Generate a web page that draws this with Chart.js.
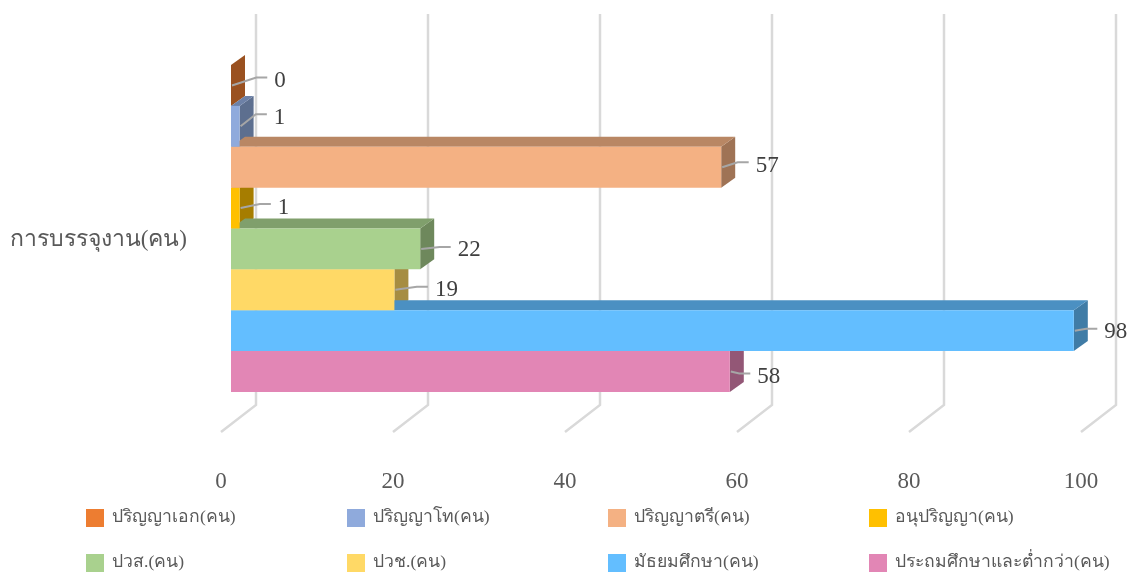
<!DOCTYPE html>
<html>
<head>
<meta charset="utf-8">
<style>
    body { margin: 0; background: #fff; }
    #wrap { width: 1130px; height: 572px; position: relative; }
</style>
<script src="https://cdn.jsdelivr.net/npm/chart.js@4"></script>
</head>
<body>
<div id="wrap"><canvas id="chart"></canvas></div>
<script>
const categories = ['การบรรจุงาน(คน)'];
const seriesNames = ['ปริญญาเอก(คน)', 'ปริญญาโท(คน)', 'ปริญญาตรี(คน)', 'อนุปริญญา(คน)', 'ปวส.(คน)', 'ปวช.(คน)', 'มัธยมศึกษา(คน)', 'ประถมศึกษาและต่ำกว่า(คน)'];
const seriesValues = [0, 1, 57, 1, 22, 19, 98, 58];
const seriesColors = ['#ED7D31', '#8FAADC', '#F4B183', '#FFC000', '#A9D18E', '#FFD966', '#63BEFF', '#E286B5'];
const tickValues = [0, 20, 40, 60, 80, 100];

// label centre relative to the bar end / bar middle
const labelOffsets = [[49, -6], [40, -10], [46, -3], [44, -2], [49, 0], [52, -1], [42, 0], [39, 4]];

const FONT = '"Liberation Serif", "Times New Roman", serif';
const DEPTH_X = 14, DEPTH_Y = 10;

function shade(hex, f) {
    const n = parseInt(hex.slice(1), 16);
    return 'rgb(' + Math.round((n >> 16) * f) + ',' + Math.round(((n >> 8) & 255) * f) + ',' + Math.round((n & 255) * f) + ')';
}

function poly(ctx, pts, fill) {
    ctx.beginPath();
    pts.forEach((p, i) => i ? ctx.lineTo(p[0], p[1]) : ctx.moveTo(p[0], p[1]));
    ctx.closePath();
    ctx.fillStyle = fill;
    ctx.fill();
}

const wallPlugin = {
    id: 'wall',
    beforeDatasetsDraw(chart) {
        const ctx = chart.ctx;
        const xs = chart.scales.x;
        ctx.save();

        // back wall + floor lines
        ctx.strokeStyle = '#d9d9d9';
        ctx.lineWidth = 2.5;
        tickValues.forEach(v => {
            const x = xs.getPixelForValue(v);
            ctx.beginPath();
            ctx.moveTo(x + 25, 14);
            ctx.lineTo(x + 25, 405);
            ctx.lineTo(x - 10, 432);
            ctx.stroke();
        });

        // side and top faces, top row first so lower rows overlap it
        chart.data.datasets.forEach((ds, i) => {
            const bar = chart.getDatasetMeta(i).data[0];
            const top = bar.y - bar.height / 2;
            const bottom = bar.y + bar.height / 2;
            poly(ctx, [[bar.x, top], [bar.x + DEPTH_X, top - DEPTH_Y], [bar.x + DEPTH_X, bottom - DEPTH_Y], [bar.x, bottom]], shade(ds.backgroundColor, 0.65));
            poly(ctx, [[bar.base, top], [bar.base + DEPTH_X, top - DEPTH_Y], [bar.x + DEPTH_X, top - DEPTH_Y], [bar.x, top]], shade(ds.backgroundColor, 0.76));
        });
        ctx.restore();
    },
    afterDatasetsDraw(chart) {
        const ctx = chart.ctx;
        ctx.save();
        ctx.font = '23px ' + FONT;
        ctx.textBaseline = 'middle';
        chart.data.datasets.forEach((ds, i) => {
            const bar = chart.getDatasetMeta(i).data[0];
            const text = String(ds.data[0]);
            const lx = bar.x + labelOffsets[i][0];
            const ly = bar.y + labelOffsets[i][1];
            const left = lx - ctx.measureText(text).width / 2;

            ctx.strokeStyle = '#a6a6a6';
            ctx.lineWidth = 2;
            ctx.beginPath();
            ctx.moveTo(bar.x + 1, bar.y);
            ctx.lineTo(left - 18, ly - 2);
            ctx.lineTo(left - 7, ly - 2);
            ctx.stroke();

            ctx.fillStyle = '#404040';
            ctx.textAlign = 'center';
            ctx.fillText(text, lx, ly + 1.5);
        });
        ctx.restore();
    },
    afterDraw(chart) {
        // legend in fixed columns, the built-in one can't do equal columns
        const ctx = chart.ctx;
        ctx.save();
        ctx.font = '17.6px ' + FONT;
        ctx.textBaseline = 'middle';
        ctx.textAlign = 'left';
        chart.data.datasets.forEach((ds, i) => {
            const x = 86 + (i % 4) * 261;
            const y = 518 + Math.floor(i / 4) * 45;
            ctx.fillStyle = ds.backgroundColor;
            ctx.fillRect(x, y - 9, 18, 18);
            ctx.fillStyle = '#595959';
            ctx.fillText(ds.label, x + 26, y - 1);
        });
        ctx.restore();
    }
};

new Chart(document.getElementById('chart'), {
    type: 'bar',
    data: {
        labels: categories,
        datasets: seriesNames.map((name, i) => ({
            label: name,
            data: [seriesValues[i]],
            backgroundColor: seriesColors[i]
        }))
    },
    options: {
        indexAxis: 'y',
        responsive: true,
        maintainAspectRatio: false,
        animation: false,
        barPercentage: 1,
        categoryPercentage: 0.8034,
        layout: {
            padding: { top: 25, right: 39, bottom: 40, left: 0 }
        },
        plugins: {
            legend: { display: false },
            tooltip: { enabled: false }
        },
        scales: {
            x: {
                type: 'linear',
                min: 0,
                max: 100,
                afterFit: scale => {
                    scale.height = 100;
                    scale.paddingLeft = 0;
                    scale.paddingRight = 0;
                },
                afterBuildTicks: scale => { scale.ticks = tickValues.map(v => ({ value: v })); },
                grid: { display: false, drawTicks: false },
                border: { display: false },
                ticks: {
                    color: '#595959',
                    font: { family: FONT, size: 23 },
                    labelOffset: -10,
                    padding: 36,
                    maxRotation: 0
                }
            },
            y: {
                type: 'category',
                afterFit: scale => {
                    scale.width = 231;
                    scale.paddingTop = 0;
                    scale.paddingBottom = 0;
                },
                grid: { display: false, drawTicks: false },
                border: { display: false },
                ticks: {
                    color: '#595959',
                    font: { family: FONT, size: 23 },
                    labelOffset: 11,
                    padding: 44
                }
            }
        }
    },
    plugins: [wallPlugin]
});
</script>
</body>
</html>
